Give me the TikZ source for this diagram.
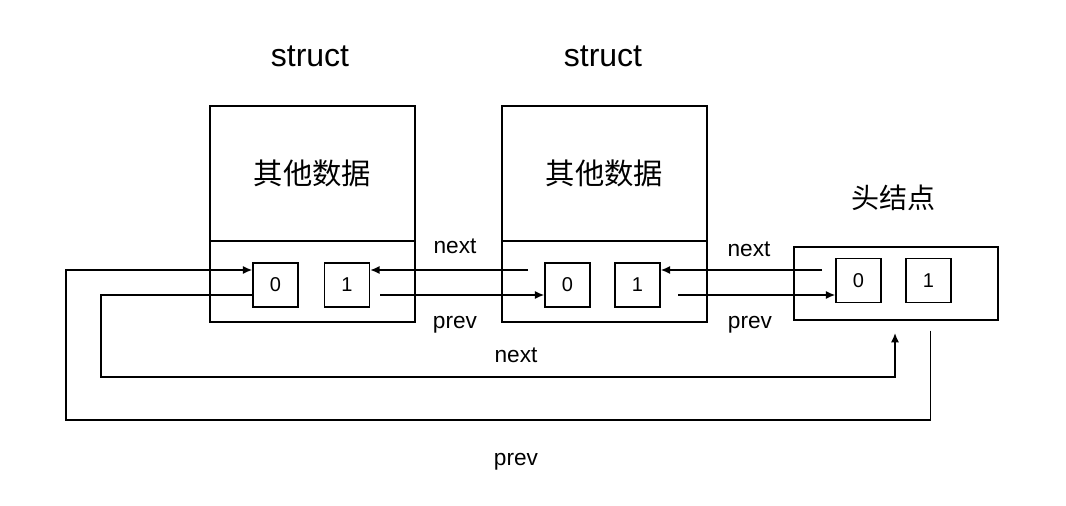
\documentclass[tikz,border=0pt]{standalone}
\usepackage{fontspec}
\setmainfont{Liberation Sans}
\newfontfamily\cjk{Noto Sans CJK SC}
\usetikzlibrary{arrows.meta, positioning}
\tikzstyle{arrow} = [line width=1.1pt, -{Latex[length=7pt,width=6pt]}]
\tikzstyle{part}  = [rectangle, draw, line width=1.1pt, minimum width=205*0.75pt, inner sep=0pt]
\tikzstyle{cell}  = [rectangle, draw, line width=1.1pt, minimum width=45*0.75pt, minimum height=44*0.75pt, font=\fontsize{15}{15}\selectfont, inner sep=0pt]
\tikzstyle{lbl}   = [font=\fontsize{17}{17}\selectfont]
\tikzset{every node/.style={align=center}}

\begin{document}
\begin{tikzpicture}[x=0.75pt, y=-0.75pt]
    \useasboundingbox (0,0) rectangle (1066,506);
    % two structs
    \node (s1top) at (312.5,173.5) [part, minimum height=135*0.75pt] {\cjk\fontsize{22}{22}\selectfont 其他数据};
    \node (s1bot) at (312.5,281.5) [part, minimum height=81*0.75pt] {};
    \node (s2top) at (604.5,173.5) [part, minimum height=135*0.75pt] {\cjk\fontsize{22}{22}\selectfont 其他数据};
    \node (s2bot) at (604.5,281.5) [part, minimum height=81*0.75pt] {};
    \node (head)  at (896,283.5)   [part, minimum width=204*0.75pt, minimum height=73*0.75pt] {};
    \node at (310,56)  [font=\fontsize{24}{24}\selectfont] {struct};
    \node at (603,56)  [font=\fontsize{24}{24}\selectfont] {struct};
    \node at (893,198) [font=\cjk\fontsize{21}{21}\selectfont] {头结点};

    \node (s1a) at (275.5,285) [cell] {0};
    \node (s1b) at (347,285)   [cell] {1};
    \node (s2a) at (567.5,285) [cell] {0};
    \node (s2b) at (637.5,285) [cell] {1};
    \node (hda) at (858.5,280.5) [cell] {0};
    \node (hdb) at (928.5,280.5) [cell] {1};

    \coordinate (n1) at (528,270);
    \coordinate (n2) at (822,270);
    \coordinate (p1) at (380,295);
    \coordinate (p2) at (678,295);

    \draw [arrow] (n1) -- (s1b.east |- n1);
    \draw [arrow] (p1) -- (s2a.west |- p1);
    \draw [arrow] (n2) -- (s2b.east |- n2);
    \draw [arrow] (p2) -- (hda.west |- p2);
    \draw [arrow] (hdb.south |- head.south) ++(2,10) |- (66,420) |- (s1a.west |- n1);
    \draw [arrow] (s1a.west |- p1) -| (101,377) -| (895,333);

    \node at (455,246) [lbl] {next};
    \node at (455,325) [lbl] {prev};
    \node at (749,249) [lbl] {next};
    \node at (750,325) [lbl] {prev};
    \node at (516,355) [lbl] {next};
    \node at (516,462) [lbl] {prev};
\end{tikzpicture}
\end{document}
